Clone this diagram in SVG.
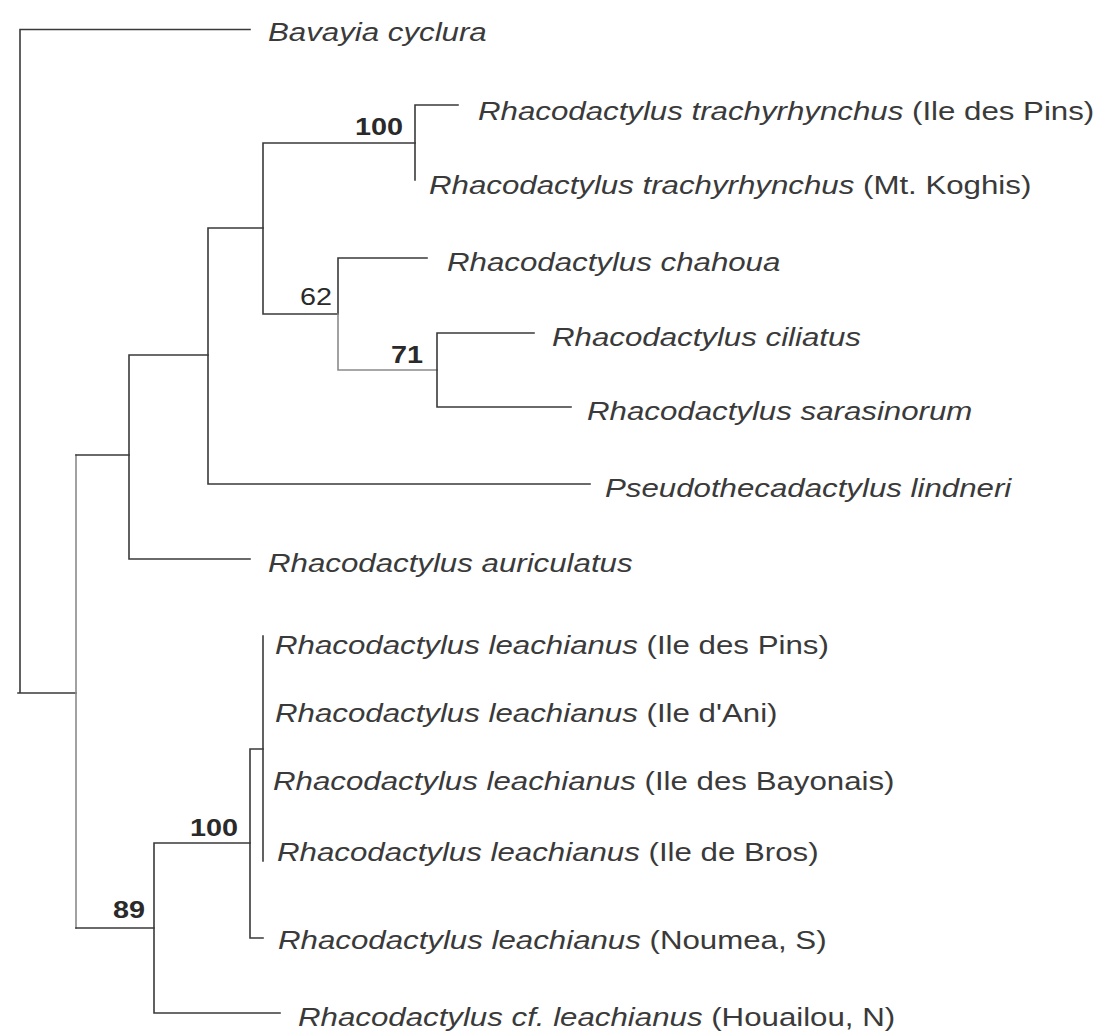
<svg xmlns="http://www.w3.org/2000/svg" width="1109" height="1031" viewBox="0 0 1109 1031">
<style>
.bg{fill:#ffffff}
.br{stroke:#3a3a3a;stroke-width:1.6;fill:none;stroke-linecap:square}
.lt{stroke:#8a8a8a}
.lb{font-family:"Liberation Sans",Arial,sans-serif;font-size:25px;fill:#3a3a3a}
.it{font-style:italic}
.bs{font-family:"Liberation Sans",Arial,sans-serif;font-size:24px;fill:#2a2a2a;text-anchor:end}
.bold{font-weight:bold}
</style>
<rect class="bg" x="0" y="0" width="1109" height="1031"/>
<g id="connectors">
<path class="br" d="M20,29.5 V693 M20,29.5 H250 M18,693 H76"/>
<path class="br lt" d="M76,455 V928"/>
<path class="br" d="M76,455 H129 M76,928 H154"/>
<path class="br" d="M129,355 V559 M129,355 H208 M129,559 H250"/>
<path class="br" d="M208,228 V484 M208,228 H263 M208,484 H590"/>
<path class="br" d="M263,143 V314 M263,143 H415 M263,314 H338"/>
<path class="br" d="M415,105 V180 M415,105 H458"/>
<path class="br" d="M338,258 V314 M338,258 H427"/>
<path class="br lt" d="M338,314 V370 M338,370 H437"/>
<path class="br" d="M437,333 V407 M437,333 H534 M437,407 H571"/>
<path class="br" d="M154,843 V1013 M154,843 H250 M154,1013 H280"/>
<path class="br" d="M250,749 V938 M250,749 H263 M250,938 H263"/>
<path class="br" d="M263,636 V861"/>
</g>
<g id="support">
<text class="bs bold" transform="translate(403,135) scale(1.2,1)">100</text>
<text class="bs" transform="translate(332,305) scale(1.2,1)">62</text>
<text class="bs bold" transform="translate(423,363) scale(1.2,1)">71</text>
<text class="bs bold" transform="translate(238,836) scale(1.2,1)">100</text>
<text class="bs bold" transform="translate(145,918) scale(1.2,1)">89</text>
</g>
<g id="bavayia"><text class="lb" transform="translate(268,41) scale(1.25,1)"><tspan class="it">Bavayia cyclura</tspan></text></g>
<g id="trachy-pins"><text class="lb" transform="translate(478,120) scale(1.25,1)"><tspan class="it">Rhacodactylus trachyrhynchus</tspan> (Ile des Pins)</text></g>
<g id="trachy-koghis"><text class="lb" transform="translate(429,194) scale(1.25,1)"><tspan class="it">Rhacodactylus trachyrhynchus</tspan> (Mt. Koghis)</text></g>
<g id="chahoua"><text class="lb" transform="translate(447,271) scale(1.25,1)"><tspan class="it">Rhacodactylus chahoua</tspan></text></g>
<g id="ciliatus"><text class="lb" transform="translate(552,346) scale(1.25,1)"><tspan class="it">Rhacodactylus ciliatus</tspan></text></g>
<g id="sarasinorum"><text class="lb" transform="translate(587,420) scale(1.25,1)"><tspan class="it">Rhacodactylus sarasinorum</tspan></text></g>
<g id="lindneri"><text class="lb" transform="translate(605,497) scale(1.25,1)"><tspan class="it">Pseudothecadactylus lindneri</tspan></text></g>
<g id="auriculatus"><text class="lb" transform="translate(268,572) scale(1.25,1)"><tspan class="it">Rhacodactylus auriculatus</tspan></text></g>
<g id="leach-pins"><text class="lb" transform="translate(275,654) scale(1.25,1)"><tspan class="it">Rhacodactylus leachianus</tspan> (Ile des Pins)</text></g>
<g id="leach-ani"><text class="lb" transform="translate(275,722) scale(1.25,1)"><tspan class="it">Rhacodactylus leachianus</tspan> (Ile d'Ani)</text></g>
<g id="leach-bayonais"><text class="lb" transform="translate(273,790) scale(1.25,1)"><tspan class="it">Rhacodactylus leachianus</tspan> (Ile des Bayonais)</text></g>
<g id="leach-bros"><text class="lb" transform="translate(277,861) scale(1.25,1)"><tspan class="it">Rhacodactylus leachianus</tspan> (Ile de Bros)</text></g>
<g id="leach-noumea"><text class="lb" transform="translate(278,949) scale(1.25,1)"><tspan class="it">Rhacodactylus leachianus</tspan> (Noumea, S)</text></g>
<g id="leach-houailou"><text class="lb" transform="translate(298,1026) scale(1.25,1)"><tspan class="it">Rhacodactylus cf. leachianus</tspan> (Houailou, N)</text></g>
</svg>
